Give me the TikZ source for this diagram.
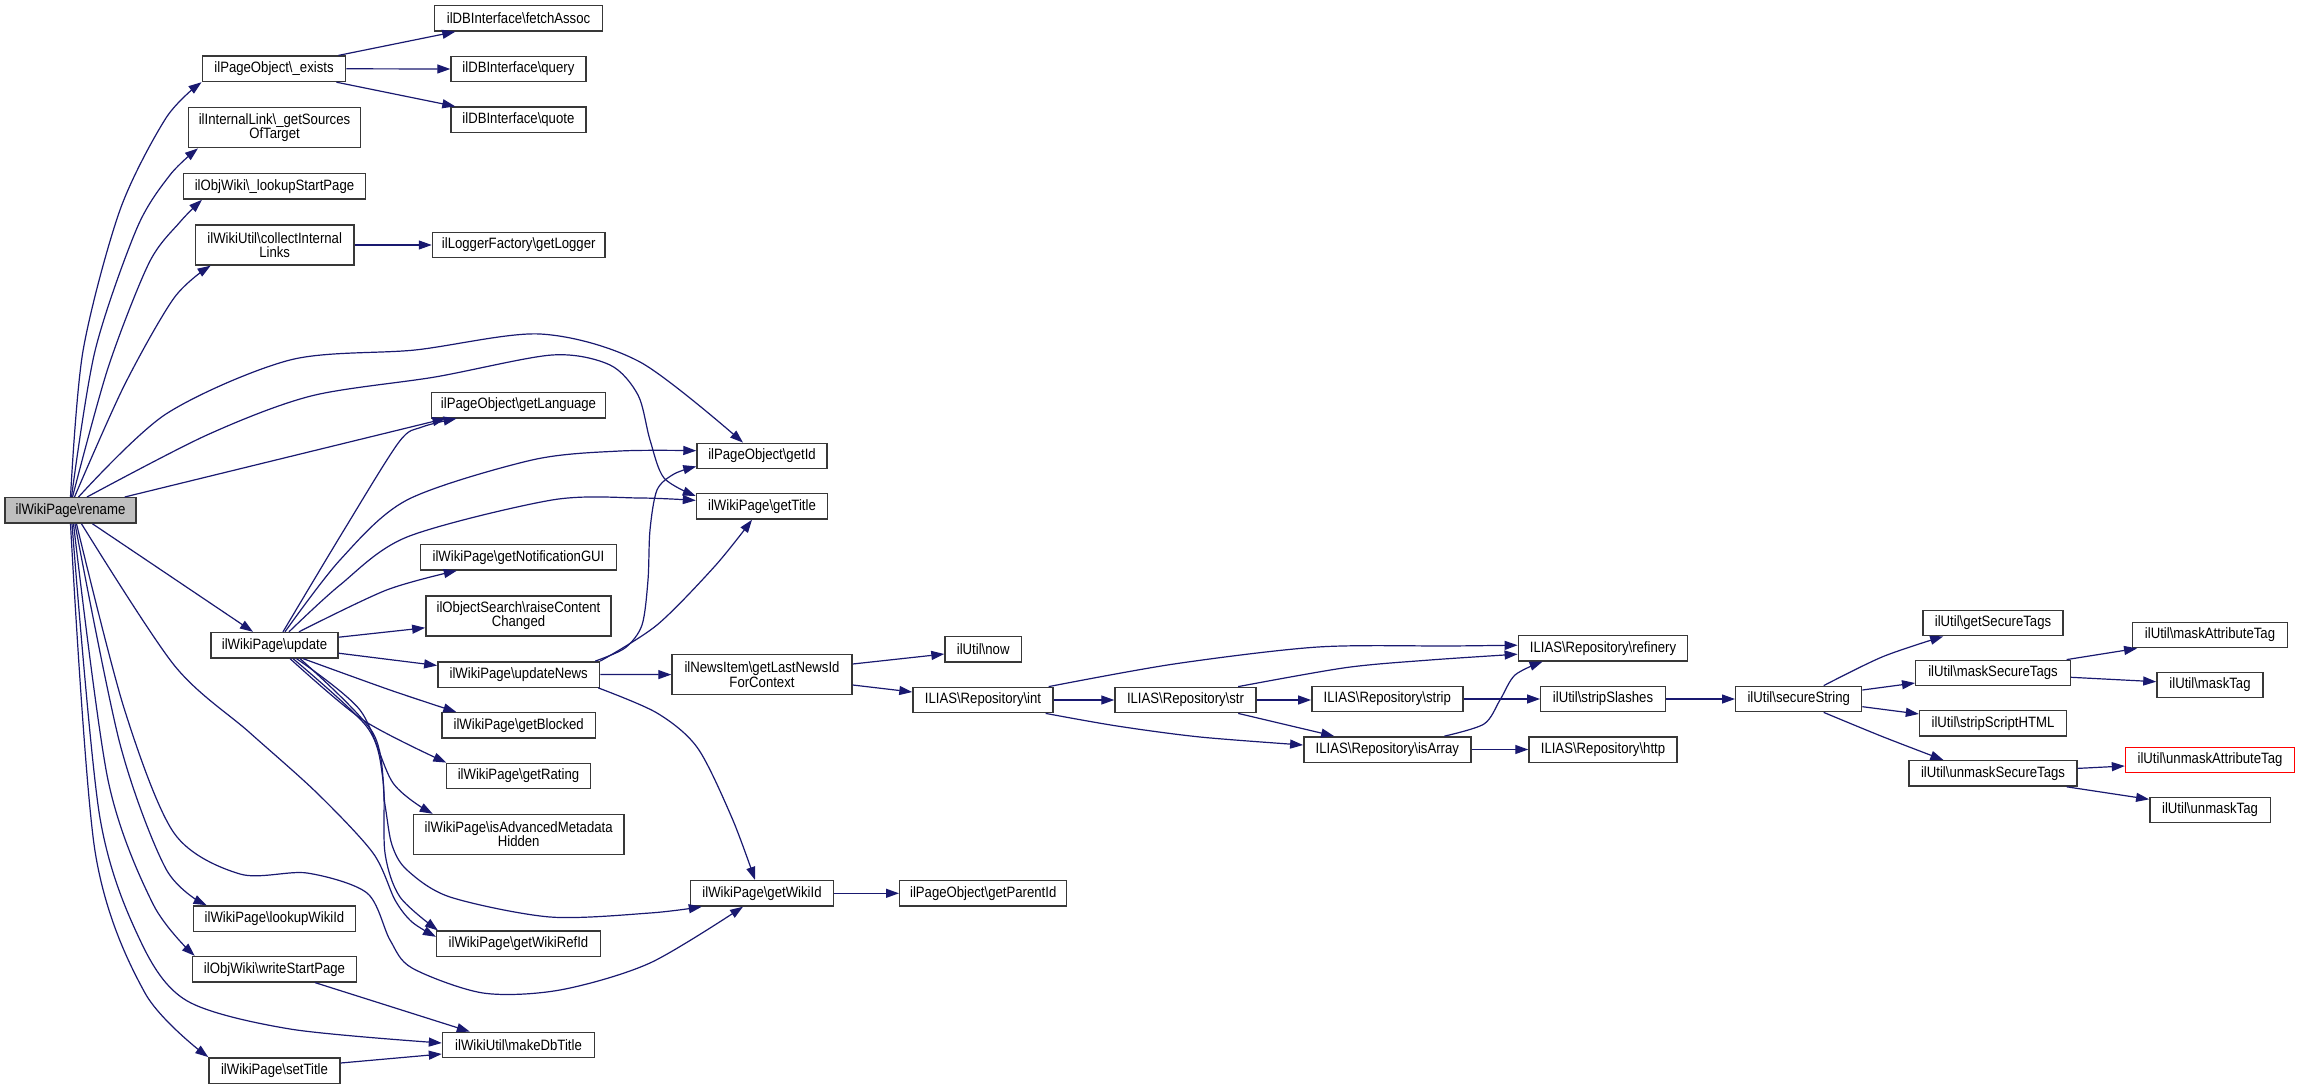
\documentclass[tikz,border=0pt]{standalone}
\usepackage{fontspec}
\setmainfont[FakeStretch=0.877]{Liberation Sans}
\usetikzlibrary{arrows.meta}
\definecolor{mblue}{HTML}{191970}
\newcommand\BSL{\textbackslash}
\tikzset{
  nbox/.style={draw=black!78, line width=1.4pt, fill=white, inner sep=0pt, minimum height=25.4pt, align=center, font=\fontsize{15}{14.2}\selectfont},
  nbox2/.style={nbox, minimum height=40pt},
  callarrow/.style={draw=mblue, line width=1.2pt, -{Triangle[length=13pt,width=9pt]}},
  sm/.style={smooth, tension=0.5}
}
\begin{document}
\begin{tikzpicture}[x=1pt,y=-1pt]
\fill[white] (0,0) rectangle (2300,1089);
\useasboundingbox (0,0) rectangle (2300,1089);
% ---- nodes ----
\node[nbox, minimum width=131pt, fill=black!25] (rename) at (70.5,510.4) {ilWikiPage\BSL rename};
\node[nbox, minimum width=143.5pt] (exists) at (274,68.8) {ilPageObject\BSL\_exists};
\node[nbox2, minimum width=171.7pt] (getSources) at (274.5,127.7) {ilInternalLink\BSL\_getSources\\OfTarget};
\node[nbox, minimum width=181.6pt] (lookupStart) at (274.5,186.4) {ilObjWiki\BSL\_lookupStartPage};
\node[nbox2, minimum width=158.8pt] (collect) at (274.7,245) {ilWikiUtil\BSL collectInternal\\Links};
\node[nbox, minimum width=168pt] (fetchAssoc) at (518.5,18.3) {ilDBInterface\BSL fetchAssoc};
\node[nbox, minimum width=134.8pt] (query) at (518.4,69) {ilDBInterface\BSL query};
\node[nbox, minimum width=134.8pt] (quote) at (518.4,119.8) {ilDBInterface\BSL quote};
\node[nbox, minimum width=172.5pt] (getLogger) at (518.7,245) {ilLoggerFactory\BSL getLogger};
\node[nbox, minimum width=174.5pt] (getLanguage) at (518.5,405.1) {ilPageObject\BSL getLanguage};
\node[nbox, minimum width=196pt] (getNotif) at (518.5,557.3) {ilWikiPage\BSL getNotificationGUI};
\node[nbox2, minimum width=185.3pt] (raise) at (518.5,615.8) {ilObjectSearch\BSL raiseContent\\Changed};
\node[nbox, minimum width=127pt] (update) at (274.5,645.2) {ilWikiPage\BSL update};
\node[nbox, minimum width=161.7pt] (updateNews) at (518.7,674.5) {ilWikiPage\BSL updateNews};
\node[nbox, minimum width=153.4pt] (getBlocked) at (518.7,725.4) {ilWikiPage\BSL getBlocked};
\node[nbox, minimum width=144pt] (getRating) at (518.5,776) {ilWikiPage\BSL getRating};
\node[nbox2, minimum width=210.6pt] (isAdv) at (518.7,834.5) {ilWikiPage\BSL isAdvancedMetadata\\Hidden};
\node[nbox, minimum width=162.5pt] (lookupWikiId) at (274.5,918.6) {ilWikiPage\BSL lookupWikiId};
\node[nbox, minimum width=163.7pt] (getWikiRefId) at (518.5,943.8) {ilWikiPage\BSL getWikiRefId};
\node[nbox, minimum width=164.2pt] (writeStart) at (274.5,969.2) {ilObjWiki\BSL writeStartPage};
\node[nbox, minimum width=152pt] (makeDb) at (518.5,1045) {ilWikiUtil\BSL makeDbTitle};
\node[nbox, minimum width=131pt] (setTitle) at (274.5,1070.5) {ilWikiPage\BSL setTitle};
\node[nbox, minimum width=130pt] (getId) at (762,456) {ilPageObject\BSL getId};
\node[nbox, minimum width=131pt] (getTitle) at (762,506.4) {ilWikiPage\BSL getTitle};
\node[nbox2, minimum width=180pt] (lastNews) at (762,674.6) {ilNewsItem\BSL getLastNewsId\\ForContext};
\node[nbox, minimum width=143pt] (getWikiId) at (762,893.3) {ilWikiPage\BSL getWikiId};
\node[nbox, minimum width=76.4pt] (now) at (983.2,649.2) {ilUtil\BSL now};
\node[nbox, minimum width=140pt] (int) at (983,700) {ILIAS\BSL Repository\BSL int};
\node[nbox, minimum width=167pt] (parentId) at (983.2,893.3) {ilPageObject\BSL getParentId};
\node[nbox, minimum width=141pt] (str) at (1185.5,700) {ILIAS\BSL Repository\BSL str};
\node[nbox, minimum width=151pt] (strip) at (1387.3,699) {ILIAS\BSL Repository\BSL strip};
\node[nbox, minimum width=167pt] (isArray) at (1387.3,749.5) {ILIAS\BSL Repository\BSL isArray};
\node[nbox, minimum width=169.4pt] (refinery) at (1603,648.2) {ILIAS\BSL Repository\BSL refinery};
\node[nbox, minimum width=124.5pt] (stripSlashes) at (1603,699) {ilUtil\BSL stripSlashes};
\node[nbox, minimum width=148pt] (http) at (1603,749.5) {ILIAS\BSL Repository\BSL http};
\node[nbox, minimum width=126pt] (secure) at (1798.7,699) {ilUtil\BSL secureString};
\node[nbox, minimum width=140.3pt] (getSecure) at (1993,623) {ilUtil\BSL getSecureTags};
\node[nbox, minimum width=154.6pt] (maskSecure) at (1993,673) {ilUtil\BSL maskSecureTags};
\node[nbox, minimum width=147pt] (stripScript) at (1993,723.4) {ilUtil\BSL stripScriptHTML};
\node[nbox, minimum width=167.8pt] (unmaskSecure) at (1993,773.4) {ilUtil\BSL unmaskSecureTags};
\node[nbox, minimum width=154.5pt] (maskAttr) at (2210,635) {ilUtil\BSL maskAttributeTag};
\node[nbox, minimum width=106.2pt] (maskTag) at (2210,685) {ilUtil\BSL maskTag};
\node[nbox, minimum width=169pt, draw=red] (unmaskAttr) at (2210,760) {ilUtil\BSL unmaskAttributeTag};
\node[nbox, minimum width=120.4pt] (unmaskTag) at (2210,810) {ilUtil\BSL unmaskTag};
% ---- edges from rename (upwards) ----
\draw[callarrow] plot[sm] coordinates {(rename.north) (83,351) (120,210) (166,118) (exists.south west)};
\draw[callarrow] plot[sm] coordinates {([xshift=1pt]rename.north) (95,351) (137,228) (170,175) ([xshift=10pt]getSources.south west)};
\draw[callarrow] plot[sm] coordinates {([xshift=2pt]rename.north) (108,368) (149,263) (180,222) ([xshift=19pt]lookupStart.south west)};
\draw[callarrow] plot[sm] coordinates {([xshift=4pt]rename.north) (124,386) (174,298) ([xshift=16pt]collect.south west)};
\draw[callarrow] plot[sm] coordinates {([xshift=8pt]rename.north) (166,414) (290,360) (415,350) (540,334) (640,362) ([xshift=-19pt]getId.north)};
\draw[callarrow] plot[sm] coordinates {([xshift=16.5pt]rename.north) (207,435) (311,396) (435,377) (552,355) (610,365) (638,395) (650,440) (664,478) ([yshift=-3pt]getTitle.north west)};
\draw[callarrow] ([xshift=-12pt]rename.north east) -- ([xshift=15pt]getLanguage.south west);
% ---- edges from rename (downwards) ----
\draw[callarrow] ([xshift=22pt]rename.south) -- ([xshift=-21.5pt]update.north);
\draw[callarrow] plot[sm] coordinates {([xshift=11pt]rename.south) (174,665) (249,732) (317,793) (373,853) (395,900) (412,922) ([yshift=7pt]getWikiRefId.west)};
\draw[callarrow] plot[sm] coordinates {([xshift=6pt]rename.south) (124,708) (174,833) (240,874) (307,873) (367,893) (390,940) (412,968) (483,993) (560,990) (650,963) ([xshift=-19pt]getWikiId.south)};
\draw[callarrow] plot[sm] coordinates {([xshift=4.5pt]rename.south) (120,744) (166,869) ([xshift=14pt]lookupWikiId.north west)};
\draw[callarrow] plot[sm] coordinates {([xshift=3pt]rename.south) (108,780) (153,904) ([xshift=3pt]writeStart.north west)};
\draw[callarrow] plot[sm] coordinates {([xshift=1.5pt]rename.south) (99.5,815) (140,940) (186.6,1000.6) (290,1029) ([yshift=2pt]makeDb.west)};
\draw[callarrow] plot[sm] coordinates {(rename.south) (95,851) (145,993) (setTitle.north west)};
% ---- exists, collect ----
\draw[callarrow] ([xshift=-8pt]exists.north east) -- ([xshift=21.5pt]fetchAssoc.south west);
\draw[callarrow] (exists.east) -- (query.west);
\draw[callarrow] ([xshift=-10pt]exists.south east) -- ([xshift=5pt]quote.north west);
\draw[callarrow] (collect.east) -- (getLogger.west);
% ---- edges from update ----
\draw[callarrow] plot[sm] coordinates {([xshift=8.5pt]update.north) (344,530) (399,442) (422,427) ([xshift=26pt]getLanguage.south west)};
\draw[callarrow] plot[sm] coordinates {([xshift=10.5pt]update.north) (340,560) (407,500) (532,460) (620,451) ([yshift=5.3pt]getId.west)};
\draw[callarrow] plot[sm] coordinates {([xshift=14.5pt]update.north) (340,585) (407,537) (552,500) (640,498) ([yshift=6pt]getTitle.west)};
\draw[callarrow] plot[sm] coordinates {([xshift=24.5pt]update.north) (386.6,590) ([xshift=37pt]getNotif.south west)};
\draw[callarrow] ([yshift=8pt]update.east) -- ([yshift=-12pt]raise.west);
\draw[callarrow] ([yshift=-8pt]update.east) -- ([yshift=9pt]updateNews.west);
\draw[callarrow] plot[sm] coordinates {([xshift=28.5pt]update.south) (390,690) ([xshift=15pt]getBlocked.north west)};
\draw[callarrow] plot[sm] coordinates {([xshift=15.5pt]update.south) (363,720) ([xshift=0.5pt]getRating.north west)};
\draw[callarrow] plot[sm] coordinates {([xshift=22pt]update.south) (360,710) (393,783) ([xshift=20pt]isAdv.north west)};
\draw[callarrow] plot[sm] coordinates {([xshift=18.5pt]update.south) (367,727) (383,780) (385,853) (400,897) ([xshift=2pt]getWikiRefId.north west)};
\draw[callarrow] plot[sm] coordinates {([xshift=25.5pt]update.south) (373,733) (385,805) (392,845) (407,870) (450,897) (550,917) (650,913) ([xshift=12pt]getWikiId.south west)};
% ---- updateNews ----
\draw[callarrow] plot[sm] coordinates {([xshift=-5pt]updateNews.north east) (625,648) (642,625) (648,580) (650,530) (657,490) (674,474) ([yshift=3pt]getId.south west)};
\draw[callarrow] plot[sm] coordinates {(updateNews.north east) (657,625) (715,566) ([xshift=-10pt]getTitle.south)};
\draw[callarrow] (updateNews.east) -- (lastNews.west);
\draw[callarrow] plot[sm] coordinates {([xshift=-2pt]updateNews.south east) (657,713) (697.6,748) (732,818) ([xshift=-7pt]getWikiId.north)};
% ---- getLastNewsId, getWikiId ----
\draw[callarrow] ([yshift=10.6pt]lastNews.east) -- ([yshift=-4.8pt]now.west);
\draw[callarrow] ([yshift=-10.4pt]lastNews.east) -- ([yshift=8pt]int.west);
\draw[callarrow] (getWikiId.east) -- (parentId.west);
% ---- repository ----
\draw[callarrow] (int.east) -- (str.west);
\draw[callarrow] plot[sm] coordinates {([xshift=-8pt]int.south east) (1117,726) (1200,737) ([yshift=4.5pt]isArray.west)};
\draw[callarrow] plot[sm] coordinates {([xshift=-5pt]int.north east) (1174,664) (1318,647) (1450,646) ([yshift=3pt]refinery.west)};
\draw[callarrow] plot[sm] coordinates {([xshift=-18.5pt]str.north east) (1346,667.6) (1430,660) ([yshift=-6pt]refinery.west)};
\draw[callarrow] (str.east) -- ([yshift=-1pt]strip.west);
\draw[callarrow] ([xshift=-18.5pt]str.south east) -- ([xshift=31pt]isArray.north west);
\draw[callarrow] plot[sm] coordinates {([xshift=-27pt]isArray.north east) (1484,724) (1500,700) (1515,675) ([xshift=25pt]refinery.south west)};
\draw[callarrow] (isArray.east) -- (http.west);
\draw[callarrow] (strip.east) -- (stripSlashes.west);
\draw[callarrow] (stripSlashes.east) -- (secure.west);
% ---- secureString ----
\draw[callarrow] plot[sm] coordinates {([xshift=25pt]secure.north) (1882.7,656.7) ([xshift=21pt]getSecure.south west)};
\draw[callarrow] ([yshift=9pt]secure.east) -- ([yshift=-10pt]maskSecure.west);
\draw[callarrow] ([yshift=-7.7pt]secure.east) -- ([yshift=9.4pt]stripScript.west);
\draw[callarrow] plot[sm] coordinates {([xshift=25pt]secure.south) (1882.7,736.7) ([xshift=35pt]unmaskSecure.north west)};
\draw[callarrow] ([xshift=-4.4pt]maskSecure.north east) -- ([xshift=5pt]maskAttr.south west);
\draw[callarrow] ([yshift=-4.3pt]maskSecure.east) -- ([yshift=3.3pt]maskTag.west);
\draw[callarrow] ([yshift=5pt]unmaskSecure.east) -- ([yshift=-6pt]unmaskAttr.west);
\draw[callarrow] ([xshift=-11pt]unmaskSecure.south east) -- ([yshift=10.7pt]unmaskTag.west);
% ---- others ----
\draw[callarrow] ([xshift=40.5pt]writeStart.south) -- ([xshift=28pt]makeDb.north west);
\draw[callarrow] ([yshift=7.5pt]setTitle.east) -- ([yshift=-9pt]makeDb.west);
\end{tikzpicture}
\end{document}
